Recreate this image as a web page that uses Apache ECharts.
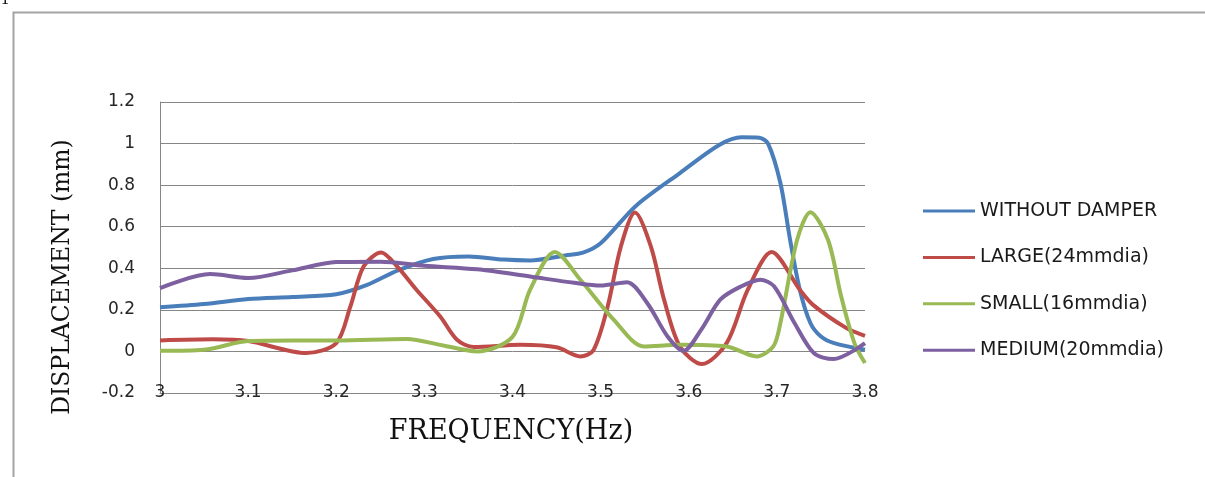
<!DOCTYPE html>
<html>
<head>
<meta charset="utf-8">
<script src="https://cdn.jsdelivr.net/npm/echarts@6/dist/echarts.min.js"></script>
<style>
html,body{margin:0;padding:0;background:#fff;}
#chart{width:1205px;height:477px;}
</style>
</head>
<body>
<div id="chart"></div>
<script>
// ---- data ----
const seriesNames = ['WITHOUT DAMPER', 'LARGE(24mmdia)', 'SMALL(16mmdia)', 'MEDIUM(20mmdia)'];
const xTicks = ['3', '3.1', '3.2', '3.3', '3.4', '3.5', '3.6', '3.7', '3.8'];
const yTicks = ['-0.2', '0', '0.2', '0.4', '0.6', '0.8', '1', '1.2'];

const freqWithout = [3.00, 3.05, 3.10, 3.15, 3.20, 3.235, 3.27, 3.31, 3.35, 3.39, 3.42, 3.46, 3.48, 3.50, 3.54, 3.59, 3.635, 3.66, 3.68, 3.69, 3.704, 3.715, 3.726, 3.738, 3.75, 3.765, 3.80];
const dispWithout = [0.213, 0.228, 0.252, 0.262, 0.275, 0.32, 0.39, 0.445, 0.457, 0.442, 0.438, 0.462, 0.475, 0.52, 0.70, 0.858, 0.994, 1.03, 1.028, 1.0, 0.81, 0.537, 0.297, 0.137, 0.072, 0.04, 0.008];

const freqLarge = [3.00, 3.06, 3.10, 3.166, 3.20, 3.216, 3.231, 3.251, 3.269, 3.291, 3.318, 3.337, 3.356, 3.409, 3.45, 3.477, 3.492, 3.508, 3.523, 3.539, 3.557, 3.572, 3.59, 3.615, 3.643, 3.667, 3.694, 3.726, 3.741, 3.779, 3.80];
const dispLarge = [0.053, 0.058, 0.05, -0.008, 0.04, 0.216, 0.409, 0.476, 0.409, 0.297, 0.168, 0.056, 0.021, 0.032, 0.02, -0.024, 0.007, 0.216, 0.505, 0.668, 0.505, 0.249, 0.024, -0.061, 0.04, 0.297, 0.478, 0.297, 0.224, 0.112, 0.075];

const freqSmall = [3.00, 3.05, 3.10, 3.15, 3.20, 3.28, 3.32, 3.36, 3.40, 3.42, 3.448, 3.477, 3.515, 3.549, 3.59, 3.643, 3.677, 3.696, 3.704, 3.723, 3.738, 3.758, 3.773, 3.788, 3.80];
const dispSmall = [0.003, 0.008, 0.05, 0.053, 0.053, 0.06, 0.03, 0.0, 0.07, 0.297, 0.478, 0.345, 0.152, 0.024, 0.032, 0.024, -0.024, 0.024, 0.137, 0.537, 0.67, 0.537, 0.264, 0.04, -0.056];

const freqMedium = [3.00, 3.057, 3.10, 3.15, 3.20, 3.25, 3.30, 3.36, 3.42, 3.47, 3.50, 3.53, 3.553, 3.576, 3.594, 3.614, 3.636, 3.659, 3.681, 3.697, 3.72, 3.742, 3.764, 3.80];
const dispMedium = [0.305, 0.372, 0.353, 0.39, 0.43, 0.432, 0.412, 0.395, 0.36, 0.33, 0.317, 0.333, 0.232, 0.072, 0.003, 0.104, 0.25, 0.312, 0.345, 0.312, 0.137, -0.008, -0.037, 0.04];

const colors = ['#4A7EBB', '#BE4B48', '#98B954', '#7D60A0'];

function pairs(xs, ys) { return xs.map((x, i) => [x, ys[i]]); }
const allData = [
  pairs(freqWithout, dispWithout),
  pairs(freqLarge, dispLarge),
  pairs(freqSmall, dispSmall),
  pairs(freqMedium, dispMedium)
];

const chart = echarts.init(document.getElementById('chart'), null, { renderer: 'canvas' });

const option = {
  backgroundColor: '#fff',
  animation: false,
  grid: { left: 160, right: 340, top: 102, bottom: 84, containLabel: false },
  xAxis: {
    type: 'value',
    min: 3, max: 3.8, interval: 0.1,
    axisLine: { show: true, onZero: false, lineStyle: { color: '#868686', width: 1 } },
    axisTick: { show: false },
    splitLine: { show: false },
    axisLabel: {
      margin: 0,
      verticalAlign: 'middle',
      fontFamily: 'DejaVu Sans', fontSize: 17, color: '#262626',
      formatter: function (v) { return xTicks[Math.round((v - 3) * 10)]; }
    }
  },
  yAxis: {
    type: 'value',
    min: -0.2, max: 1.2, interval: 0.2,
    axisLine: { show: true, lineStyle: { color: '#868686', width: 1 } },
    axisTick: { show: false },
    splitLine: { show: true, lineStyle: { color: '#868686', width: 1 } },
    axisLabel: {
      margin: 25,
      fontFamily: 'DejaVu Sans', fontSize: 17, color: '#262626',
      formatter: function (v) { return yTicks[Math.round((v + 0.2) * 5)]; }
    }
  },
  legend: {
    orient: 'vertical',
    left: 918, top: 196,
    icon: 'rect',
    itemWidth: 52, itemHeight: 3,
    itemGap: 26.4,
    textStyle: { fontFamily: 'DejaVu Sans', fontSize: 19, color: '#1a1a1a', lineHeight: 20 },
    data: seriesNames
  },
  series: seriesNames.map((name, i) => ({
    name: name,
    type: 'line',
    data: allData[i],
    smooth: 0.3,
    showSymbol: false,
    symbol: 'none',
    lineStyle: { color: colors[i], width: 4 },
    itemStyle: { color: colors[i] },
    z: 2 + i
  })),
  graphic: [
    { type: 'rect', left: 11, top: 10, shape: { width: 1300, height: 600 },
      style: { fill: 'none', stroke: '#a3a3a3', lineWidth: 2 }, silent: true },
    { type: 'text', x: 1, y: 8,
      style: { text: '1', font: '16px "Liberation Serif"', fill: '#000', verticalAlign: 'bottom' } },
    { type: 'text', x: 511, y: 432,
      style: { text: 'FREQUENCY(Hz)', font: '27px "DejaVu Serif"', fill: '#111', align: 'center', verticalAlign: 'middle' } },
    { type: 'text', x: 63, y: 277, rotation: Math.PI / 2,
      style: { text: 'DISPLACEMENT (mm)', font: '23.5px "DejaVu Serif"', fill: '#111', align: 'center', verticalAlign: 'middle' } }
  ]
};
chart.setOption(option);
</script>
</body>
</html>
